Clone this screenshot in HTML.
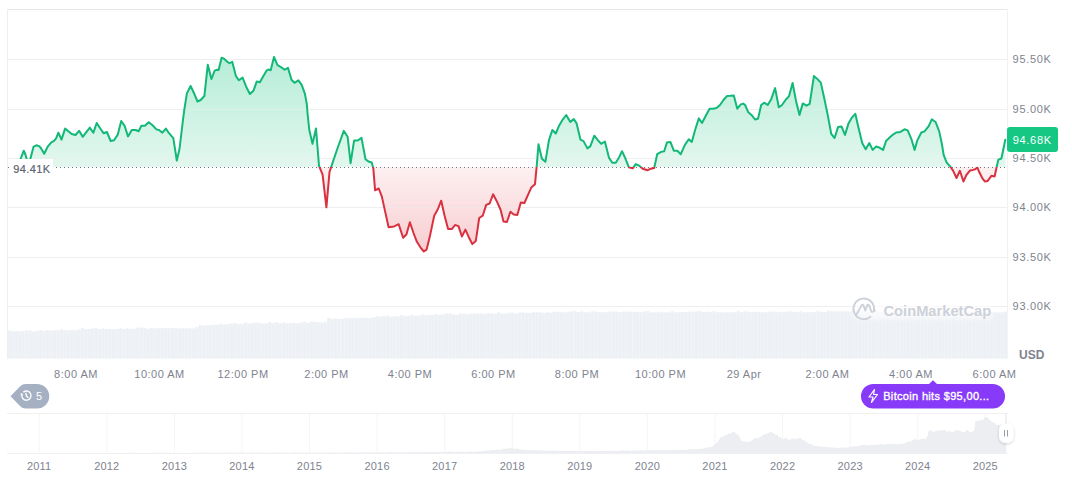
<!DOCTYPE html>
<html><head><meta charset="utf-8"><style>
*{margin:0;padding:0;box-sizing:border-box}
html,body{width:1072px;height:477px;overflow:hidden;background:#fff}
body{position:relative;font-family:"Liberation Sans",sans-serif;}
svg.main{position:absolute;left:0;top:0}
.xl{position:absolute;top:367.1px;width:80px;text-align:center;font-size:11px;line-height:14px;color:#7e838f;letter-spacing:0.5px;padding-left:0.5px;white-space:nowrap}
.yl{position:absolute;top:458.9px;width:60px;text-align:center;font-size:11px;line-height:14px;color:#7e838f;letter-spacing:0.2px;white-space:nowrap}
.rl{position:absolute;left:1012.6px;font-size:11px;line-height:14px;color:#7e838f;letter-spacing:0.7px;white-space:nowrap}
.tag{position:absolute;left:1007px;top:127px;width:51px;height:25px;background:#16c784;border-radius:3px}
.tagt{position:absolute;left:1012.7px;top:133.2px;color:#fff;font-size:11px;line-height:14px;letter-spacing:0.7px;white-space:nowrap}
.curb{position:absolute;left:9px;top:159px;width:44px;height:17px;background:#fff}
.cur{position:absolute;left:13.2px;top:162.1px;color:#5c6370;font-size:11px;line-height:14px;letter-spacing:0.4px;white-space:nowrap;-webkit-text-stroke:0.2px #5c6370}
.usd{position:absolute;left:1019px;top:348px;font-size:12px;font-weight:bold;line-height:14px;color:#7e838f}
.wm{position:absolute;left:883.5px;top:302px;font-size:14.7px;font-weight:bold;line-height:18px;color:#cdd1d9}
.pb{position:absolute;left:883.2px;top:389px;font-size:11px;line-height:14px;color:#fff;white-space:nowrap;letter-spacing:0.33px;-webkit-text-stroke:0.35px #fff}
.gb{position:absolute;left:36px;top:389px;font-size:11px;line-height:14px;color:#fff}
</style></head><body>
<svg class="main" width="1072" height="477" viewBox="0 0 1072 477">
<defs>
<linearGradient id="gg" x1="0" y1="57" x2="0" y2="167" gradientUnits="userSpaceOnUse">
<stop offset="0" stop-color="#b6edd8"/>
<stop offset="1" stop-color="#e3f7ef"/>
</linearGradient>
<linearGradient id="rg" x1="0" y1="167" x2="0" y2="252" gradientUnits="userSpaceOnUse">
<stop offset="0" stop-color="#fdf0f1"/>
<stop offset="1" stop-color="#f7cdd0"/>
</linearGradient>
<clipPath id="above"><rect x="0" y="0" width="1072" height="167.0"/></clipPath>
<clipPath id="below"><rect x="0" y="167.0" width="1072" height="300"/></clipPath>
<filter id="bl" x="-20%" y="-50%" width="140%" height="200%"><feGaussianBlur stdDeviation="2.5"/></filter>
<filter id="sh" x="-50%" y="-50%" width="200%" height="200%"><feDropShadow dx="0" dy="1" stdDeviation="1.5" flood-color="#000" flood-opacity="0.18"/></filter>
</defs>
<!-- frame -->
<rect x="7" y="9" width="1001" height="1" fill="#e7e7e8"/>
<rect x="7" y="9" width="1" height="350" fill="#efeff0"/>
<rect x="1007" y="9" width="1" height="350" fill="#f1f1f2"/>
<rect x="8" y="59" width="999" height="1" fill="#eeeeef"/><rect x="8" y="109" width="999" height="1" fill="#eeeeef"/><rect x="8" y="158" width="999" height="1" fill="#eeeeef"/><rect x="8" y="207" width="999" height="1" fill="#eeeeef"/><rect x="8" y="257" width="999" height="1" fill="#eeeeef"/><rect x="8" y="306" width="999" height="1" fill="#eeeeef"/>
<!-- volume -->
<path d="M8 358.5 L8.00 331.50 L11.47 331.50 L11.47 331.50 L14.94 331.50 L14.94 331.50 L18.41 331.50 L18.41 331.50 L21.88 331.50 L21.88 331.50 L25.35 331.50 L25.35 331.50 L28.82 331.50 L28.82 331.50 L32.29 331.50 L32.29 331.50 L35.76 331.50 L35.76 331.50 L39.23 331.50 L39.23 331.02 L42.70 331.02 L42.70 330.49 L46.18 330.49 L46.18 330.47 L49.65 330.47 L49.65 330.45 L53.12 330.45 L53.12 330.43 L56.59 330.43 L56.59 330.41 L60.06 330.41 L60.06 330.39 L63.53 330.39 L63.53 330.37 L67.00 330.37 L67.00 330.35 L70.47 330.35 L70.47 330.33 L73.94 330.33 L73.94 330.31 L77.41 330.31 L77.41 329.67 L80.88 329.67 L80.88 329.18 L84.35 329.18 L84.35 329.15 L87.82 329.15 L87.82 329.13 L91.29 329.13 L91.29 329.10 L94.76 329.10 L94.76 329.07 L98.23 329.07 L98.23 329.04 L101.70 329.04 L101.70 329.02 L105.17 329.02 L105.17 328.99 L108.64 328.99 L108.64 328.96 L112.11 328.96 L112.11 328.94 L115.59 328.94 L115.59 328.91 L119.06 328.91 L119.06 328.88 L122.53 328.88 L122.53 328.85 L126.00 328.85 L126.00 328.83 L129.47 328.83 L129.47 328.80 L132.94 328.80 L132.94 328.77 L136.41 328.77 L136.41 328.74 L139.88 328.74 L139.88 328.72 L143.35 328.72 L143.35 328.69 L146.82 328.69 L146.82 328.66 L150.29 328.66 L150.29 328.64 L153.76 328.64 L153.76 328.61 L157.23 328.61 L157.23 328.58 L160.70 328.58 L160.70 328.55 L164.17 328.55 L164.17 328.53 L167.64 328.53 L167.64 328.50 L171.11 328.50 L171.11 328.47 L174.58 328.47 L174.58 328.45 L178.05 328.45 L178.05 328.42 L181.52 328.42 L181.52 328.39 L184.99 328.39 L184.99 328.36 L188.47 328.36 L188.47 328.34 L191.94 328.34 L191.94 328.31 L195.41 328.31 L195.41 327.34 L198.88 327.34 L198.88 325.77 L202.35 325.77 L202.35 325.46 L205.82 325.46 L205.82 325.31 L209.29 325.31 L209.29 325.15 L212.76 325.15 L212.76 325.00 L216.23 325.00 L216.23 324.85 L219.70 324.85 L219.70 324.69 L223.17 324.69 L223.17 324.54 L226.64 324.54 L226.64 324.38 L230.11 324.38 L230.11 324.23 L233.58 324.23 L233.58 324.07 L237.05 324.07 L237.05 323.92 L240.52 323.92 L240.52 323.77 L243.99 323.77 L243.99 323.61 L247.46 323.61 L247.46 323.56 L250.93 323.56 L250.93 323.53 L254.40 323.53 L254.40 323.49 L257.88 323.49 L257.88 323.45 L261.35 323.45 L261.35 323.41 L264.82 323.41 L264.82 323.37 L268.29 323.37 L268.29 323.33 L271.76 323.33 L271.76 323.29 L275.23 323.29 L275.23 323.26 L278.70 323.26 L278.70 323.22 L282.17 323.22 L282.17 323.18 L285.64 323.18 L285.64 323.14 L289.11 323.14 L289.11 323.10 L292.58 323.10 L292.58 323.06 L296.05 323.06 L296.05 323.02 L299.52 323.02 L299.52 322.99 L302.99 322.99 L302.99 322.95 L306.46 322.95 L306.46 322.91 L309.93 322.91 L309.93 322.87 L313.40 322.87 L313.40 322.83 L316.87 322.83 L316.87 322.79 L320.34 322.79 L320.34 322.75 L323.81 322.75 L323.81 322.72 L327.28 322.72 L327.28 319.10 L330.76 319.10 L330.76 319.00 L334.23 319.00 L334.23 318.90 L337.70 318.90 L337.70 318.80 L341.17 318.80 L341.17 318.70 L344.64 318.70 L344.64 318.60 L348.11 318.60 L348.11 318.50 L351.58 318.50 L351.58 318.40 L355.05 318.40 L355.05 318.30 L358.52 318.30 L358.52 318.20 L361.99 318.20 L361.99 318.10 L365.46 318.10 L365.46 318.00 L368.93 318.00 L368.93 317.90 L372.40 317.90 L372.40 317.73 L375.87 317.73 L375.87 316.78 L379.34 316.78 L379.34 316.73 L382.81 316.73 L382.81 316.68 L386.28 316.68 L386.28 316.63 L389.75 316.63 L389.75 316.58 L393.22 316.58 L393.22 316.53 L396.69 316.53 L396.69 316.48 L400.16 316.48 L400.16 316.43 L403.64 316.43 L403.64 316.34 L407.11 316.34 L407.11 316.18 L410.58 316.18 L410.58 316.03 L414.05 316.03 L414.05 315.87 L417.52 315.87 L417.52 315.71 L420.99 315.71 L420.99 315.56 L424.46 315.56 L424.46 315.40 L427.93 315.40 L427.93 315.25 L431.40 315.25 L431.40 315.09 L434.87 315.09 L434.87 314.93 L438.34 314.93 L438.34 314.78 L441.81 314.78 L441.81 314.62 L445.28 314.62 L445.28 314.55 L448.75 314.55 L448.75 314.49 L452.22 314.49 L452.22 314.44 L455.69 314.44 L455.69 314.38 L459.16 314.38 L459.16 314.32 L462.63 314.32 L462.63 314.27 L466.10 314.27 L466.10 314.21 L469.57 314.21 L469.57 314.15 L473.05 314.15 L473.05 314.10 L476.52 314.10 L476.52 314.04 L479.99 314.04 L479.99 313.98 L483.46 313.98 L483.46 313.93 L486.93 313.93 L486.93 313.87 L490.40 313.87 L490.40 313.82 L493.87 313.82 L493.87 313.76 L497.34 313.76 L497.34 313.70 L500.81 313.70 L500.81 313.65 L504.28 313.65 L504.28 313.59 L507.75 313.59 L507.75 313.53 L511.22 313.53 L511.22 313.48 L514.69 313.48 L514.69 313.42 L518.16 313.42 L518.16 313.36 L521.63 313.36 L521.63 313.31 L525.10 313.31 L525.10 313.25 L528.57 313.25 L528.57 313.19 L532.04 313.19 L532.04 313.14 L535.51 313.14 L535.51 313.06 L538.98 313.06 L538.98 312.94 L542.45 312.94 L542.45 312.83 L545.93 312.83 L545.93 312.71 L549.40 312.71 L549.40 312.60 L552.87 312.60 L552.87 312.48 L556.34 312.48 L556.34 312.36 L559.81 312.36 L559.81 312.30 L563.28 312.30 L563.28 312.30 L566.75 312.30 L566.75 312.30 L570.22 312.30 L570.22 312.30 L573.69 312.30 L573.69 312.30 L577.16 312.30 L577.16 312.30 L580.63 312.30 L580.63 312.30 L584.10 312.30 L584.10 312.30 L587.57 312.30 L587.57 312.30 L591.04 312.30 L591.04 312.30 L594.51 312.30 L594.51 312.30 L597.98 312.30 L597.98 312.30 L601.45 312.30 L601.45 312.30 L604.92 312.30 L604.92 312.30 L608.39 312.30 L608.39 312.30 L611.86 312.30 L611.86 312.30 L615.34 312.30 L615.34 312.30 L618.81 312.30 L618.81 312.30 L622.28 312.30 L622.28 312.30 L625.75 312.30 L625.75 312.30 L629.22 312.30 L629.22 312.30 L632.69 312.30 L632.69 312.30 L636.16 312.30 L636.16 312.30 L639.63 312.30 L639.63 312.30 L643.10 312.30 L643.10 312.30 L646.57 312.30 L646.57 312.30 L650.04 312.30 L650.04 312.30 L653.51 312.30 L653.51 312.30 L656.98 312.30 L656.98 312.30 L660.45 312.30 L660.45 312.30 L663.92 312.30 L663.92 312.30 L667.39 312.30 L667.39 312.30 L670.86 312.30 L670.86 312.30 L674.33 312.30 L674.33 312.30 L677.80 312.30 L677.80 312.30 L681.27 312.30 L681.27 312.30 L684.74 312.30 L684.74 312.30 L688.22 312.30 L688.22 312.30 L691.69 312.30 L691.69 312.30 L695.16 312.30 L695.16 312.30 L698.63 312.30 L698.63 312.30 L702.10 312.30 L702.10 312.30 L705.57 312.30 L705.57 312.30 L709.04 312.30 L709.04 312.30 L712.51 312.30 L712.51 312.30 L715.98 312.30 L715.98 312.30 L719.45 312.30 L719.45 312.30 L722.92 312.30 L722.92 312.30 L726.39 312.30 L726.39 312.30 L729.86 312.30 L729.86 312.30 L733.33 312.30 L733.33 312.30 L736.80 312.30 L736.80 312.30 L740.27 312.30 L740.27 312.30 L743.74 312.30 L743.74 312.30 L747.21 312.30 L747.21 312.30 L750.68 312.30 L750.68 312.30 L754.15 312.30 L754.15 312.30 L757.62 312.30 L757.62 312.30 L761.10 312.30 L761.10 312.30 L764.57 312.30 L764.57 312.30 L768.04 312.30 L768.04 312.30 L771.51 312.30 L771.51 312.30 L774.98 312.30 L774.98 312.30 L778.45 312.30 L778.45 312.30 L781.92 312.30 L781.92 312.30 L785.39 312.30 L785.39 312.30 L788.86 312.30 L788.86 312.30 L792.33 312.30 L792.33 312.30 L795.80 312.30 L795.80 312.30 L799.27 312.30 L799.27 312.29 L802.74 312.29 L802.74 312.24 L806.21 312.24 L806.21 312.19 L809.68 312.19 L809.68 312.14 L813.15 312.14 L813.15 312.09 L816.62 312.09 L816.62 312.04 L820.09 312.04 L820.09 311.99 L823.56 311.99 L823.56 311.94 L827.03 311.94 L827.03 311.89 L830.51 311.89 L830.51 311.84 L833.98 311.84 L833.98 311.79 L837.45 311.79 L837.45 311.74 L840.92 311.74 L840.92 311.69 L844.39 311.69 L844.39 311.64 L847.86 311.64 L847.86 311.59 L851.33 311.59 L851.33 311.54 L854.80 311.54 L854.80 311.49 L858.27 311.49 L858.27 311.44 L861.74 311.44 L861.74 311.39 L865.21 311.39 L865.21 311.34 L868.68 311.34 L868.68 311.33 L872.15 311.33 L872.15 311.56 L875.62 311.56 L875.62 311.79 L879.09 311.79 L879.09 312.02 L882.56 312.02 L882.56 312.25 L886.03 312.25 L886.03 312.48 L889.50 312.48 L889.50 312.72 L892.97 312.72 L892.97 312.95 L896.44 312.95 L896.44 313.18 L899.91 313.18 L899.91 313.28 L903.39 313.28 L903.39 313.25 L906.86 313.25 L906.86 313.22 L910.33 313.22 L910.33 313.19 L913.80 313.19 L913.80 313.15 L917.27 313.15 L917.27 313.12 L920.74 313.12 L920.74 313.09 L924.21 313.09 L924.21 313.06 L927.68 313.06 L927.68 313.03 L931.15 313.03 L931.15 312.99 L934.62 312.99 L934.62 312.96 L938.09 312.96 L938.09 312.93 L941.56 312.93 L941.56 312.90 L945.03 312.90 L945.03 312.86 L948.50 312.86 L948.50 312.83 L951.97 312.83 L951.97 312.80 L955.44 312.80 L955.44 312.77 L958.91 312.77 L958.91 312.73 L962.38 312.73 L962.38 312.70 L965.85 312.70 L965.85 312.67 L969.32 312.67 L969.32 312.64 L972.80 312.64 L972.80 312.60 L976.27 312.60 L976.27 312.57 L979.74 312.57 L979.74 312.54 L983.21 312.54 L983.21 312.51 L986.68 312.51 L986.68 312.47 L990.15 312.47 L990.15 312.44 L993.62 312.44 L993.62 312.41 L997.09 312.41 L997.09 312.38 L1000.56 312.38 L1000.56 312.34 L1004.03 312.34 L1004.03 312.31 L1007.50 312.31 L1007.5 358.5 Z" fill="#f3f5f8"/>
<path d="M8.00 330.58h2.77v27.92h-2.77zM11.47 331.19h2.77v27.31h-2.77zM14.94 330.84h2.77v27.66h-2.77zM18.41 331.31h2.77v27.19h-2.77zM21.88 331.35h2.77v27.15h-2.77zM25.35 330.23h2.77v28.27h-2.77zM28.82 330.13h2.77v28.37h-2.77zM32.29 331.77h2.77v26.73h-2.77zM35.76 330.62h2.77v27.88h-2.77zM39.23 330.08h2.77v28.42h-2.77zM42.70 331.08h2.77v27.42h-2.77zM46.18 330.01h2.77v28.49h-2.77zM49.65 330.72h2.77v27.78h-2.77zM53.12 329.98h2.77v28.52h-2.77zM56.59 330.29h2.77v28.21h-2.77zM60.06 329.29h2.77v29.21h-2.77zM63.53 330.24h2.77v28.26h-2.77zM67.00 330.69h2.77v27.81h-2.77zM70.47 329.98h2.77v28.52h-2.77zM73.94 330.40h2.77v28.10h-2.77zM77.41 329.61h2.77v28.89h-2.77zM80.88 327.91h2.77v30.59h-2.77zM84.35 329.27h2.77v29.23h-2.77zM87.82 328.91h2.77v29.59h-2.77zM91.29 328.30h2.77v30.20h-2.77zM94.76 327.73h2.77v30.77h-2.77zM98.23 329.37h2.77v29.13h-2.77zM101.70 328.56h2.77v29.94h-2.77zM105.17 329.03h2.77v29.47h-2.77zM108.64 329.32h2.77v29.18h-2.77zM112.11 328.96h2.77v29.54h-2.77zM115.59 329.35h2.77v29.15h-2.77zM119.06 328.27h2.77v30.23h-2.77zM122.53 329.06h2.77v29.44h-2.77zM126.00 328.32h2.77v30.18h-2.77zM129.47 329.27h2.77v29.23h-2.77zM132.94 329.13h2.77v29.37h-2.77zM136.41 327.54h2.77v30.96h-2.77zM139.88 327.59h2.77v30.91h-2.77zM143.35 327.72h2.77v30.78h-2.77zM146.82 329.19h2.77v29.31h-2.77zM150.29 328.11h2.77v30.39h-2.77zM153.76 328.46h2.77v30.04h-2.77zM157.23 327.78h2.77v30.72h-2.77zM160.70 328.17h2.77v30.33h-2.77zM164.17 327.90h2.77v30.60h-2.77zM167.64 327.80h2.77v30.70h-2.77zM171.11 328.24h2.77v30.26h-2.77zM174.58 328.21h2.77v30.29h-2.77zM178.05 328.83h2.77v29.67h-2.77zM181.52 328.36h2.77v30.14h-2.77zM184.99 328.82h2.77v29.68h-2.77zM188.47 328.65h2.77v29.85h-2.77zM191.94 328.89h2.77v29.61h-2.77zM195.41 327.28h2.77v31.22h-2.77zM198.88 324.70h2.77v33.80h-2.77zM202.35 325.78h2.77v32.72h-2.77zM205.82 325.84h2.77v32.66h-2.77zM209.29 325.56h2.77v32.94h-2.77zM212.76 324.74h2.77v33.76h-2.77zM216.23 324.87h2.77v33.63h-2.77zM219.70 323.71h2.77v34.79h-2.77zM223.17 324.80h2.77v33.70h-2.77zM226.64 324.13h2.77v34.37h-2.77zM230.11 323.40h2.77v35.10h-2.77zM233.58 322.80h2.77v35.70h-2.77zM237.05 324.23h2.77v34.27h-2.77zM240.52 324.35h2.77v34.15h-2.77zM243.99 322.39h2.77v36.11h-2.77zM247.46 323.77h2.77v34.73h-2.77zM250.93 322.95h2.77v35.55h-2.77zM254.40 322.39h2.77v36.11h-2.77zM257.88 322.64h2.77v35.86h-2.77zM261.35 323.55h2.77v34.95h-2.77zM264.82 323.72h2.77v34.78h-2.77zM268.29 322.02h2.77v36.48h-2.77zM271.76 323.12h2.77v35.38h-2.77zM275.23 321.95h2.77v36.55h-2.77zM278.70 323.25h2.77v35.25h-2.77zM282.17 322.44h2.77v36.06h-2.77zM285.64 323.50h2.77v35.00h-2.77zM289.11 323.66h2.77v34.84h-2.77zM292.58 322.67h2.77v35.83h-2.77zM296.05 323.62h2.77v34.88h-2.77zM299.52 322.21h2.77v36.29h-2.77zM302.99 321.70h2.77v36.80h-2.77zM306.46 322.71h2.77v35.79h-2.77zM309.93 321.53h2.77v36.97h-2.77zM313.40 321.83h2.77v36.67h-2.77zM316.87 322.21h2.77v36.29h-2.77zM320.34 322.58h2.77v35.92h-2.77zM323.81 321.63h2.77v36.87h-2.77zM327.28 317.78h2.77v40.72h-2.77zM330.76 319.33h2.77v39.17h-2.77zM334.23 318.13h2.77v40.37h-2.77zM337.70 319.32h2.77v39.18h-2.77zM341.17 319.09h2.77v39.41h-2.77zM344.64 317.95h2.77v40.55h-2.77zM348.11 318.02h2.77v40.48h-2.77zM351.58 318.04h2.77v40.46h-2.77zM355.05 318.19h2.77v40.31h-2.77zM358.52 317.99h2.77v40.51h-2.77zM361.99 317.82h2.77v40.68h-2.77zM365.46 317.84h2.77v40.66h-2.77zM368.93 318.38h2.77v40.12h-2.77zM372.40 317.35h2.77v41.15h-2.77zM375.87 316.24h2.77v42.26h-2.77zM379.34 316.77h2.77v41.73h-2.77zM382.81 315.75h2.77v42.75h-2.77zM386.28 315.83h2.77v42.67h-2.77zM389.75 317.13h2.77v41.37h-2.77zM393.22 316.17h2.77v42.33h-2.77zM396.69 316.18h2.77v42.32h-2.77zM400.16 315.05h2.77v43.45h-2.77zM403.64 315.77h2.77v42.73h-2.77zM407.11 315.94h2.77v42.56h-2.77zM410.58 314.67h2.77v43.83h-2.77zM414.05 315.70h2.77v42.80h-2.77zM417.52 315.58h2.77v42.92h-2.77zM420.99 314.28h2.77v44.22h-2.77zM424.46 315.26h2.77v43.24h-2.77zM427.93 314.78h2.77v43.72h-2.77zM431.40 315.05h2.77v43.45h-2.77zM434.87 314.24h2.77v44.26h-2.77zM438.34 314.79h2.77v43.71h-2.77zM441.81 314.70h2.77v43.80h-2.77zM445.28 313.20h2.77v45.30h-2.77zM448.75 313.22h2.77v45.28h-2.77zM452.22 314.39h2.77v44.11h-2.77zM455.69 314.91h2.77v43.59h-2.77zM459.16 313.43h2.77v45.07h-2.77zM462.63 313.78h2.77v44.72h-2.77zM466.10 314.00h2.77v44.50h-2.77zM469.57 313.39h2.77v45.11h-2.77zM473.05 313.43h2.77v45.07h-2.77zM476.52 313.27h2.77v45.23h-2.77zM479.99 313.32h2.77v45.18h-2.77zM483.46 313.72h2.77v44.78h-2.77zM486.93 313.07h2.77v45.43h-2.77zM490.40 313.17h2.77v45.33h-2.77zM493.87 313.90h2.77v44.60h-2.77zM497.34 312.36h2.77v46.14h-2.77zM500.81 313.38h2.77v45.12h-2.77zM504.28 313.66h2.77v44.84h-2.77zM507.75 312.75h2.77v45.75h-2.77zM511.22 312.52h2.77v45.98h-2.77zM514.69 313.63h2.77v44.87h-2.77zM518.16 312.44h2.77v46.06h-2.77zM521.63 312.28h2.77v46.22h-2.77zM525.10 312.72h2.77v45.78h-2.77zM528.57 313.19h2.77v45.31h-2.77zM532.04 311.94h2.77v46.56h-2.77zM535.51 312.30h2.77v46.20h-2.77zM538.98 312.21h2.77v46.29h-2.77zM542.45 313.09h2.77v45.41h-2.77zM545.93 312.19h2.77v46.31h-2.77zM549.40 312.91h2.77v45.59h-2.77zM552.87 311.42h2.77v47.08h-2.77zM556.34 311.64h2.77v46.86h-2.77zM559.81 312.20h2.77v46.30h-2.77zM563.28 312.67h2.77v45.83h-2.77zM566.75 311.80h2.77v46.70h-2.77zM570.22 311.35h2.77v47.15h-2.77zM573.69 311.14h2.77v47.36h-2.77zM577.16 311.96h2.77v46.54h-2.77zM580.63 311.28h2.77v47.22h-2.77zM584.10 312.51h2.77v45.99h-2.77zM587.57 312.58h2.77v45.92h-2.77zM591.04 311.27h2.77v47.23h-2.77zM594.51 311.46h2.77v47.04h-2.77zM597.98 312.51h2.77v45.99h-2.77zM601.45 312.18h2.77v46.32h-2.77zM604.92 312.51h2.77v45.99h-2.77zM608.39 311.59h2.77v46.91h-2.77zM611.86 311.16h2.77v47.34h-2.77zM615.34 311.48h2.77v47.02h-2.77zM618.81 312.49h2.77v46.01h-2.77zM622.28 311.44h2.77v47.06h-2.77zM625.75 311.59h2.77v46.91h-2.77zM629.22 311.73h2.77v46.77h-2.77zM632.69 311.74h2.77v46.76h-2.77zM636.16 311.72h2.77v46.78h-2.77zM639.63 312.74h2.77v45.76h-2.77zM643.10 311.21h2.77v47.29h-2.77zM646.57 310.91h2.77v47.59h-2.77zM650.04 312.79h2.77v45.71h-2.77zM653.51 312.66h2.77v45.84h-2.77zM656.98 312.87h2.77v45.63h-2.77zM660.45 311.77h2.77v46.73h-2.77zM663.92 312.80h2.77v45.70h-2.77zM667.39 312.75h2.77v45.75h-2.77zM670.86 311.34h2.77v47.16h-2.77zM674.33 312.39h2.77v46.11h-2.77zM677.80 312.57h2.77v45.93h-2.77zM681.27 312.23h2.77v46.27h-2.77zM684.74 311.94h2.77v46.56h-2.77zM688.22 311.48h2.77v47.02h-2.77zM691.69 311.58h2.77v46.92h-2.77zM695.16 311.35h2.77v47.15h-2.77zM698.63 311.04h2.77v47.46h-2.77zM702.10 312.08h2.77v46.42h-2.77zM705.57 311.47h2.77v47.03h-2.77zM709.04 312.52h2.77v45.98h-2.77zM712.51 310.99h2.77v47.51h-2.77zM715.98 312.71h2.77v45.79h-2.77zM719.45 312.29h2.77v46.21h-2.77zM722.92 312.75h2.77v45.75h-2.77zM726.39 312.69h2.77v45.81h-2.77zM729.86 312.70h2.77v45.80h-2.77zM733.33 312.05h2.77v46.45h-2.77zM736.80 310.93h2.77v47.57h-2.77zM740.27 312.39h2.77v46.11h-2.77zM743.74 311.24h2.77v47.26h-2.77zM747.21 311.50h2.77v47.00h-2.77zM750.68 312.23h2.77v46.27h-2.77zM754.15 311.95h2.77v46.55h-2.77zM757.62 311.73h2.77v46.77h-2.77zM761.10 312.78h2.77v45.72h-2.77zM764.57 312.12h2.77v46.38h-2.77zM768.04 311.58h2.77v46.92h-2.77zM771.51 311.40h2.77v47.10h-2.77zM774.98 312.62h2.77v45.88h-2.77zM778.45 311.85h2.77v46.65h-2.77zM781.92 312.46h2.77v46.04h-2.77zM785.39 311.60h2.77v46.90h-2.77zM788.86 311.29h2.77v47.21h-2.77zM792.33 311.97h2.77v46.53h-2.77zM795.80 312.53h2.77v45.97h-2.77zM799.27 311.23h2.77v47.27h-2.77zM802.74 312.42h2.77v46.08h-2.77zM806.21 312.63h2.77v45.87h-2.77zM809.68 312.35h2.77v46.15h-2.77zM813.15 312.33h2.77v46.17h-2.77zM816.62 310.65h2.77v47.85h-2.77zM820.09 311.85h2.77v46.65h-2.77zM823.56 312.26h2.77v46.24h-2.77zM827.03 310.59h2.77v47.91h-2.77zM830.51 310.98h2.77v47.52h-2.77zM833.98 310.93h2.77v47.57h-2.77zM837.45 311.39h2.77v47.11h-2.77zM840.92 311.14h2.77v47.36h-2.77zM844.39 311.19h2.77v47.31h-2.77zM847.86 311.74h2.77v46.76h-2.77zM851.33 310.15h2.77v48.35h-2.77zM854.80 310.20h2.77v48.30h-2.77zM858.27 310.30h2.77v48.20h-2.77zM861.74 310.24h2.77v48.26h-2.77zM865.21 310.08h2.77v48.42h-2.77zM868.68 311.88h2.77v46.62h-2.77zM872.15 311.87h2.77v46.63h-2.77zM875.62 310.56h2.77v47.94h-2.77zM879.09 311.63h2.77v46.87h-2.77zM882.56 311.48h2.77v47.02h-2.77zM886.03 311.71h2.77v46.79h-2.77zM889.50 312.02h2.77v46.48h-2.77zM892.97 312.84h2.77v45.66h-2.77zM896.44 312.95h2.77v45.55h-2.77zM899.91 312.61h2.77v45.89h-2.77zM903.39 312.23h2.77v46.27h-2.77zM906.86 312.48h2.77v46.02h-2.77zM910.33 312.03h2.77v46.47h-2.77zM913.80 312.87h2.77v45.63h-2.77zM917.27 313.15h2.77v45.35h-2.77zM920.74 312.45h2.77v46.05h-2.77zM924.21 311.82h2.77v46.68h-2.77zM927.68 311.98h2.77v46.52h-2.77zM931.15 312.34h2.77v46.16h-2.77zM934.62 312.77h2.77v45.73h-2.77zM938.09 313.09h2.77v45.41h-2.77zM941.56 312.26h2.77v46.24h-2.77zM945.03 313.07h2.77v45.43h-2.77zM948.50 312.68h2.77v45.82h-2.77zM951.97 312.26h2.77v46.24h-2.77zM955.44 312.11h2.77v46.39h-2.77zM958.91 312.33h2.77v46.17h-2.77zM962.38 312.71h2.77v45.79h-2.77zM965.85 312.11h2.77v46.39h-2.77zM969.32 312.62h2.77v45.88h-2.77zM972.80 312.13h2.77v46.37h-2.77zM976.27 311.66h2.77v46.84h-2.77zM979.74 312.21h2.77v46.29h-2.77zM983.21 312.50h2.77v46.00h-2.77zM986.68 311.22h2.77v47.28h-2.77zM990.15 311.89h2.77v46.61h-2.77zM993.62 311.86h2.77v46.64h-2.77zM997.09 312.74h2.77v45.76h-2.77zM1000.56 312.82h2.77v45.68h-2.77zM1004.03 311.66h2.77v46.84h-2.77z" fill="#edf0f4"/>
<!-- fills -->
<path d="M11 164 L12.5 162 L16 165 L19.3 162 L21.3 157.2 L23.8 150.7 L25.4 154.5 L27.3 161 L29.8 161 L33.6 146.6 L36.3 145.3 L39 146.1 L40.7 147.7 L44.2 153.8 L47.9 146.3 L51.3 142.3 L54 140.9 L56.1 138.4 L58.4 132.7 L61.5 139.6 L65.1 128.6 L68.4 131.2 L71.7 134 L75.5 135 L79.1 130.8 L82.7 136.8 L89.8 127.6 L93.3 132.8 L96.7 123 L100.3 128.5 L103.7 133.3 L106.9 132 L110.7 141 L114 140.2 L117.8 134.6 L121.2 121 L124.6 125.8 L128 136.4 L131.8 130 L135.9 130 L138.6 131.3 L141.4 125.8 L144.9 125.8 L148.7 122.3 L152.3 125 L156.4 129.4 L159 130 L162.4 132.7 L165.9 128.6 L168.6 132.7 L173.3 138.1 L176.8 160.5 L179.5 149 L183.1 119 L184.4 109.1 L186.9 93.4 L190.6 86 L194.3 93.8 L197.5 101.5 L200.7 100 L204.4 96 L207.8 64.7 L211.4 79 L214.7 70.6 L216.6 69.8 L218.6 70 L221.6 57.7 L224.4 59 L226.5 61.1 L229.4 63.2 L232.3 61.9 L235.9 76 L238.8 80.3 L242.6 77.6 L246.3 87 L249.9 94 L253.4 90.8 L256.8 81.4 L259.9 82.3 L262.8 77 L266.5 70.7 L268.4 69.5 L270.7 70.2 L274 56.9 L277.5 65.2 L281 67.1 L284.7 69.7 L288 67.9 L291.5 79.7 L294.5 82.8 L298.4 80.3 L301.7 84.8 L304.9 93.9 L306.8 104 L307.6 114 L309.3 130 L312.5 143.9 L316 128.5 L319 165.8 L322.6 174.6 L326.4 207.3 L329.5 172 L331.3 166.6 L337.6 148 L343.8 130.9 L347.6 136.7 L350.6 163.2 L354.1 140.5 L357.8 140.5 L361.5 137.9 L365.5 159.3 L368.5 161.5 L371.7 162.5 L373.3 168.2 L375.1 190.3 L378.7 188.5 L381.8 196.4 L385.1 211.4 L388.6 227.2 L394.1 226.4 L398.7 224.2 L403.1 237.8 L406.4 234.5 L409.9 222.3 L413.5 233 L416.9 241.8 L420.4 247.3 L423.8 251.5 L426.6 249.6 L429.6 237.6 L434.2 215.7 L437.7 209.5 L441.2 200.7 L444.6 215.7 L448.1 229.1 L452 228.9 L455 225 L458.5 226.1 L461.9 236.5 L465.4 229.6 L468.8 237.2 L472.3 244.1 L475.8 241.1 L479.2 218 L482.7 215.7 L486.2 204.9 L489.6 203.5 L493.1 194.3 L496.5 200.7 L500.5 209.5 L503.5 221.5 L506.9 222 L510.4 211.8 L513.8 214.6 L517.3 215 L520.8 202.6 L524.4 203 L528.1 194.6 L531.5 187.2 L535 184.2 L536.6 167.4 L538.5 144.3 L541.9 158.8 L545.4 161.8 L548.9 140.4 L552.3 130 L555.8 133.5 L559.2 125.4 L562.7 119.6 L566.2 115 L570.3 121.9 L573.8 119.1 L576.5 123.1 L580.5 139.7 L583.5 141.1 L587.4 148.4 L590.4 146.1 L594.3 135.7 L598 140.4 L601.2 143.8 L604.9 141.5 L608.9 157.6 L612.3 162.7 L615.8 162.7 L619.2 157.2 L622 151.2 L625 157.6 L628.9 167.4 L632.7 168.3 L635.8 164.1 L639.2 165.7 L642.7 168.7 L647.3 170.3 L650.8 168.7 L654.2 168 L657.2 154.2 L661.2 151.9 L664.2 151.2 L666.9 142.6 L670.4 141.9 L673.8 150.7 L677.3 150.7 L680.8 154.2 L684.9 144.9 L688.8 139.2 L691.8 141.9 L695.1 130 L698.8 118.4 L702 123 L706.2 115 L709.6 108.7 L713.1 108.7 L716.5 108 L720 105 L723.5 100 L726.9 96.1 L730.4 95.8 L733.8 95.4 L737.3 108.7 L740.8 104.4 L743.2 103.6 L745.1 105 L748.1 111.9 L751.5 114.9 L755 119.5 L758 118.8 L761.2 105 L764.2 102.7 L767.7 105 L771.2 99.2 L775.1 88.1 L778.8 107.3 L782 105 L785.7 99.7 L788.9 96.4 L792.6 83 L795.9 100.4 L799.5 114.9 L802.8 103.4 L806.5 105.7 L809.7 103.8 L813.9 76.1 L817.3 78.9 L820.8 82.6 L824.2 98 L827.7 114.9 L831.2 133.8 L834.6 138 L838.1 126.9 L841.5 126.4 L845 134.9 L848.5 123.4 L851.9 117.6 L855.3 113.8 L858.4 127.3 L862.2 143 L865.7 149.3 L869.3 143 L872.7 149.9 L876.2 146.5 L879.8 147.8 L883.1 149.9 L886.1 140.9 L889.9 137.3 L893 134.6 L896.2 132.5 L900.4 131.9 L904.5 129.3 L907.7 130.4 L911.3 138.8 L914.6 149.9 L917.1 140.9 L921.3 132.5 L924.5 131.4 L928.7 126.2 L931.8 119.3 L935.6 122 L939.2 131.4 L941.9 144 L943.7 155.2 L946.6 162.3 L950.3 166.7 L953.2 170.8 L956.5 178 L959.9 170.8 L963.4 181.5 L966.4 175 L970.1 170.4 L973 169.9 L975.2 169.2 L977.4 167.7 L979.6 172.8 L982.6 178.7 L984.8 181.4 L987.7 180.9 L991.4 175.8 L994.6 176.5 L996.5 167.7 L998.4 159.6 L1001.4 158.5 L1005.3 139.8 L1005.3 167.0 L11 167.0 Z" fill="url(#gg)" clip-path="url(#above)"/>
<path d="M11 164 L12.5 162 L16 165 L19.3 162 L21.3 157.2 L23.8 150.7 L25.4 154.5 L27.3 161 L29.8 161 L33.6 146.6 L36.3 145.3 L39 146.1 L40.7 147.7 L44.2 153.8 L47.9 146.3 L51.3 142.3 L54 140.9 L56.1 138.4 L58.4 132.7 L61.5 139.6 L65.1 128.6 L68.4 131.2 L71.7 134 L75.5 135 L79.1 130.8 L82.7 136.8 L89.8 127.6 L93.3 132.8 L96.7 123 L100.3 128.5 L103.7 133.3 L106.9 132 L110.7 141 L114 140.2 L117.8 134.6 L121.2 121 L124.6 125.8 L128 136.4 L131.8 130 L135.9 130 L138.6 131.3 L141.4 125.8 L144.9 125.8 L148.7 122.3 L152.3 125 L156.4 129.4 L159 130 L162.4 132.7 L165.9 128.6 L168.6 132.7 L173.3 138.1 L176.8 160.5 L179.5 149 L183.1 119 L184.4 109.1 L186.9 93.4 L190.6 86 L194.3 93.8 L197.5 101.5 L200.7 100 L204.4 96 L207.8 64.7 L211.4 79 L214.7 70.6 L216.6 69.8 L218.6 70 L221.6 57.7 L224.4 59 L226.5 61.1 L229.4 63.2 L232.3 61.9 L235.9 76 L238.8 80.3 L242.6 77.6 L246.3 87 L249.9 94 L253.4 90.8 L256.8 81.4 L259.9 82.3 L262.8 77 L266.5 70.7 L268.4 69.5 L270.7 70.2 L274 56.9 L277.5 65.2 L281 67.1 L284.7 69.7 L288 67.9 L291.5 79.7 L294.5 82.8 L298.4 80.3 L301.7 84.8 L304.9 93.9 L306.8 104 L307.6 114 L309.3 130 L312.5 143.9 L316 128.5 L319 165.8 L322.6 174.6 L326.4 207.3 L329.5 172 L331.3 166.6 L337.6 148 L343.8 130.9 L347.6 136.7 L350.6 163.2 L354.1 140.5 L357.8 140.5 L361.5 137.9 L365.5 159.3 L368.5 161.5 L371.7 162.5 L373.3 168.2 L375.1 190.3 L378.7 188.5 L381.8 196.4 L385.1 211.4 L388.6 227.2 L394.1 226.4 L398.7 224.2 L403.1 237.8 L406.4 234.5 L409.9 222.3 L413.5 233 L416.9 241.8 L420.4 247.3 L423.8 251.5 L426.6 249.6 L429.6 237.6 L434.2 215.7 L437.7 209.5 L441.2 200.7 L444.6 215.7 L448.1 229.1 L452 228.9 L455 225 L458.5 226.1 L461.9 236.5 L465.4 229.6 L468.8 237.2 L472.3 244.1 L475.8 241.1 L479.2 218 L482.7 215.7 L486.2 204.9 L489.6 203.5 L493.1 194.3 L496.5 200.7 L500.5 209.5 L503.5 221.5 L506.9 222 L510.4 211.8 L513.8 214.6 L517.3 215 L520.8 202.6 L524.4 203 L528.1 194.6 L531.5 187.2 L535 184.2 L536.6 167.4 L538.5 144.3 L541.9 158.8 L545.4 161.8 L548.9 140.4 L552.3 130 L555.8 133.5 L559.2 125.4 L562.7 119.6 L566.2 115 L570.3 121.9 L573.8 119.1 L576.5 123.1 L580.5 139.7 L583.5 141.1 L587.4 148.4 L590.4 146.1 L594.3 135.7 L598 140.4 L601.2 143.8 L604.9 141.5 L608.9 157.6 L612.3 162.7 L615.8 162.7 L619.2 157.2 L622 151.2 L625 157.6 L628.9 167.4 L632.7 168.3 L635.8 164.1 L639.2 165.7 L642.7 168.7 L647.3 170.3 L650.8 168.7 L654.2 168 L657.2 154.2 L661.2 151.9 L664.2 151.2 L666.9 142.6 L670.4 141.9 L673.8 150.7 L677.3 150.7 L680.8 154.2 L684.9 144.9 L688.8 139.2 L691.8 141.9 L695.1 130 L698.8 118.4 L702 123 L706.2 115 L709.6 108.7 L713.1 108.7 L716.5 108 L720 105 L723.5 100 L726.9 96.1 L730.4 95.8 L733.8 95.4 L737.3 108.7 L740.8 104.4 L743.2 103.6 L745.1 105 L748.1 111.9 L751.5 114.9 L755 119.5 L758 118.8 L761.2 105 L764.2 102.7 L767.7 105 L771.2 99.2 L775.1 88.1 L778.8 107.3 L782 105 L785.7 99.7 L788.9 96.4 L792.6 83 L795.9 100.4 L799.5 114.9 L802.8 103.4 L806.5 105.7 L809.7 103.8 L813.9 76.1 L817.3 78.9 L820.8 82.6 L824.2 98 L827.7 114.9 L831.2 133.8 L834.6 138 L838.1 126.9 L841.5 126.4 L845 134.9 L848.5 123.4 L851.9 117.6 L855.3 113.8 L858.4 127.3 L862.2 143 L865.7 149.3 L869.3 143 L872.7 149.9 L876.2 146.5 L879.8 147.8 L883.1 149.9 L886.1 140.9 L889.9 137.3 L893 134.6 L896.2 132.5 L900.4 131.9 L904.5 129.3 L907.7 130.4 L911.3 138.8 L914.6 149.9 L917.1 140.9 L921.3 132.5 L924.5 131.4 L928.7 126.2 L931.8 119.3 L935.6 122 L939.2 131.4 L941.9 144 L943.7 155.2 L946.6 162.3 L950.3 166.7 L953.2 170.8 L956.5 178 L959.9 170.8 L963.4 181.5 L966.4 175 L970.1 170.4 L973 169.9 L975.2 169.2 L977.4 167.7 L979.6 172.8 L982.6 178.7 L984.8 181.4 L987.7 180.9 L991.4 175.8 L994.6 176.5 L996.5 167.7 L998.4 159.6 L1001.4 158.5 L1005.3 139.8 L1005.3 167.0 L11 167.0 Z" fill="url(#rg)" clip-path="url(#below)"/>
<g opacity="0.45"><rect x="8" y="59" width="999" height="1" fill="#eeeeef"/><rect x="8" y="109" width="999" height="1" fill="#eeeeef"/><rect x="8" y="158" width="999" height="1" fill="#eeeeef"/><rect x="8" y="207" width="999" height="1" fill="#eeeeef"/><rect x="8" y="257" width="999" height="1" fill="#eeeeef"/><rect x="8" y="306" width="999" height="1" fill="#eeeeef"/></g>
<!-- baseline dotted -->
<line x1="8" y1="167.5" x2="1006" y2="167.5" stroke="#6f7583" stroke-width="1" stroke-dasharray="1 3"/>
<!-- lines -->
<path d="M11 164 L12.5 162 L16 165 L19.3 162 L21.3 157.2 L23.8 150.7 L25.4 154.5 L27.3 161 L29.8 161 L33.6 146.6 L36.3 145.3 L39 146.1 L40.7 147.7 L44.2 153.8 L47.9 146.3 L51.3 142.3 L54 140.9 L56.1 138.4 L58.4 132.7 L61.5 139.6 L65.1 128.6 L68.4 131.2 L71.7 134 L75.5 135 L79.1 130.8 L82.7 136.8 L89.8 127.6 L93.3 132.8 L96.7 123 L100.3 128.5 L103.7 133.3 L106.9 132 L110.7 141 L114 140.2 L117.8 134.6 L121.2 121 L124.6 125.8 L128 136.4 L131.8 130 L135.9 130 L138.6 131.3 L141.4 125.8 L144.9 125.8 L148.7 122.3 L152.3 125 L156.4 129.4 L159 130 L162.4 132.7 L165.9 128.6 L168.6 132.7 L173.3 138.1 L176.8 160.5 L179.5 149 L183.1 119 L184.4 109.1 L186.9 93.4 L190.6 86 L194.3 93.8 L197.5 101.5 L200.7 100 L204.4 96 L207.8 64.7 L211.4 79 L214.7 70.6 L216.6 69.8 L218.6 70 L221.6 57.7 L224.4 59 L226.5 61.1 L229.4 63.2 L232.3 61.9 L235.9 76 L238.8 80.3 L242.6 77.6 L246.3 87 L249.9 94 L253.4 90.8 L256.8 81.4 L259.9 82.3 L262.8 77 L266.5 70.7 L268.4 69.5 L270.7 70.2 L274 56.9 L277.5 65.2 L281 67.1 L284.7 69.7 L288 67.9 L291.5 79.7 L294.5 82.8 L298.4 80.3 L301.7 84.8 L304.9 93.9 L306.8 104 L307.6 114 L309.3 130 L312.5 143.9 L316 128.5 L319 165.8 L322.6 174.6 L326.4 207.3 L329.5 172 L331.3 166.6 L337.6 148 L343.8 130.9 L347.6 136.7 L350.6 163.2 L354.1 140.5 L357.8 140.5 L361.5 137.9 L365.5 159.3 L368.5 161.5 L371.7 162.5 L373.3 168.2 L375.1 190.3 L378.7 188.5 L381.8 196.4 L385.1 211.4 L388.6 227.2 L394.1 226.4 L398.7 224.2 L403.1 237.8 L406.4 234.5 L409.9 222.3 L413.5 233 L416.9 241.8 L420.4 247.3 L423.8 251.5 L426.6 249.6 L429.6 237.6 L434.2 215.7 L437.7 209.5 L441.2 200.7 L444.6 215.7 L448.1 229.1 L452 228.9 L455 225 L458.5 226.1 L461.9 236.5 L465.4 229.6 L468.8 237.2 L472.3 244.1 L475.8 241.1 L479.2 218 L482.7 215.7 L486.2 204.9 L489.6 203.5 L493.1 194.3 L496.5 200.7 L500.5 209.5 L503.5 221.5 L506.9 222 L510.4 211.8 L513.8 214.6 L517.3 215 L520.8 202.6 L524.4 203 L528.1 194.6 L531.5 187.2 L535 184.2 L536.6 167.4 L538.5 144.3 L541.9 158.8 L545.4 161.8 L548.9 140.4 L552.3 130 L555.8 133.5 L559.2 125.4 L562.7 119.6 L566.2 115 L570.3 121.9 L573.8 119.1 L576.5 123.1 L580.5 139.7 L583.5 141.1 L587.4 148.4 L590.4 146.1 L594.3 135.7 L598 140.4 L601.2 143.8 L604.9 141.5 L608.9 157.6 L612.3 162.7 L615.8 162.7 L619.2 157.2 L622 151.2 L625 157.6 L628.9 167.4 L632.7 168.3 L635.8 164.1 L639.2 165.7 L642.7 168.7 L647.3 170.3 L650.8 168.7 L654.2 168 L657.2 154.2 L661.2 151.9 L664.2 151.2 L666.9 142.6 L670.4 141.9 L673.8 150.7 L677.3 150.7 L680.8 154.2 L684.9 144.9 L688.8 139.2 L691.8 141.9 L695.1 130 L698.8 118.4 L702 123 L706.2 115 L709.6 108.7 L713.1 108.7 L716.5 108 L720 105 L723.5 100 L726.9 96.1 L730.4 95.8 L733.8 95.4 L737.3 108.7 L740.8 104.4 L743.2 103.6 L745.1 105 L748.1 111.9 L751.5 114.9 L755 119.5 L758 118.8 L761.2 105 L764.2 102.7 L767.7 105 L771.2 99.2 L775.1 88.1 L778.8 107.3 L782 105 L785.7 99.7 L788.9 96.4 L792.6 83 L795.9 100.4 L799.5 114.9 L802.8 103.4 L806.5 105.7 L809.7 103.8 L813.9 76.1 L817.3 78.9 L820.8 82.6 L824.2 98 L827.7 114.9 L831.2 133.8 L834.6 138 L838.1 126.9 L841.5 126.4 L845 134.9 L848.5 123.4 L851.9 117.6 L855.3 113.8 L858.4 127.3 L862.2 143 L865.7 149.3 L869.3 143 L872.7 149.9 L876.2 146.5 L879.8 147.8 L883.1 149.9 L886.1 140.9 L889.9 137.3 L893 134.6 L896.2 132.5 L900.4 131.9 L904.5 129.3 L907.7 130.4 L911.3 138.8 L914.6 149.9 L917.1 140.9 L921.3 132.5 L924.5 131.4 L928.7 126.2 L931.8 119.3 L935.6 122 L939.2 131.4 L941.9 144 L943.7 155.2 L946.6 162.3 L950.3 166.7 L953.2 170.8 L956.5 178 L959.9 170.8 L963.4 181.5 L966.4 175 L970.1 170.4 L973 169.9 L975.2 169.2 L977.4 167.7 L979.6 172.8 L982.6 178.7 L984.8 181.4 L987.7 180.9 L991.4 175.8 L994.6 176.5 L996.5 167.7 L998.4 159.6 L1001.4 158.5 L1005.3 139.8" fill="none" stroke="#12b877" stroke-width="2" stroke-linejoin="round" stroke-linecap="round" clip-path="url(#above)"/>
<path d="M11 164 L12.5 162 L16 165 L19.3 162 L21.3 157.2 L23.8 150.7 L25.4 154.5 L27.3 161 L29.8 161 L33.6 146.6 L36.3 145.3 L39 146.1 L40.7 147.7 L44.2 153.8 L47.9 146.3 L51.3 142.3 L54 140.9 L56.1 138.4 L58.4 132.7 L61.5 139.6 L65.1 128.6 L68.4 131.2 L71.7 134 L75.5 135 L79.1 130.8 L82.7 136.8 L89.8 127.6 L93.3 132.8 L96.7 123 L100.3 128.5 L103.7 133.3 L106.9 132 L110.7 141 L114 140.2 L117.8 134.6 L121.2 121 L124.6 125.8 L128 136.4 L131.8 130 L135.9 130 L138.6 131.3 L141.4 125.8 L144.9 125.8 L148.7 122.3 L152.3 125 L156.4 129.4 L159 130 L162.4 132.7 L165.9 128.6 L168.6 132.7 L173.3 138.1 L176.8 160.5 L179.5 149 L183.1 119 L184.4 109.1 L186.9 93.4 L190.6 86 L194.3 93.8 L197.5 101.5 L200.7 100 L204.4 96 L207.8 64.7 L211.4 79 L214.7 70.6 L216.6 69.8 L218.6 70 L221.6 57.7 L224.4 59 L226.5 61.1 L229.4 63.2 L232.3 61.9 L235.9 76 L238.8 80.3 L242.6 77.6 L246.3 87 L249.9 94 L253.4 90.8 L256.8 81.4 L259.9 82.3 L262.8 77 L266.5 70.7 L268.4 69.5 L270.7 70.2 L274 56.9 L277.5 65.2 L281 67.1 L284.7 69.7 L288 67.9 L291.5 79.7 L294.5 82.8 L298.4 80.3 L301.7 84.8 L304.9 93.9 L306.8 104 L307.6 114 L309.3 130 L312.5 143.9 L316 128.5 L319 165.8 L322.6 174.6 L326.4 207.3 L329.5 172 L331.3 166.6 L337.6 148 L343.8 130.9 L347.6 136.7 L350.6 163.2 L354.1 140.5 L357.8 140.5 L361.5 137.9 L365.5 159.3 L368.5 161.5 L371.7 162.5 L373.3 168.2 L375.1 190.3 L378.7 188.5 L381.8 196.4 L385.1 211.4 L388.6 227.2 L394.1 226.4 L398.7 224.2 L403.1 237.8 L406.4 234.5 L409.9 222.3 L413.5 233 L416.9 241.8 L420.4 247.3 L423.8 251.5 L426.6 249.6 L429.6 237.6 L434.2 215.7 L437.7 209.5 L441.2 200.7 L444.6 215.7 L448.1 229.1 L452 228.9 L455 225 L458.5 226.1 L461.9 236.5 L465.4 229.6 L468.8 237.2 L472.3 244.1 L475.8 241.1 L479.2 218 L482.7 215.7 L486.2 204.9 L489.6 203.5 L493.1 194.3 L496.5 200.7 L500.5 209.5 L503.5 221.5 L506.9 222 L510.4 211.8 L513.8 214.6 L517.3 215 L520.8 202.6 L524.4 203 L528.1 194.6 L531.5 187.2 L535 184.2 L536.6 167.4 L538.5 144.3 L541.9 158.8 L545.4 161.8 L548.9 140.4 L552.3 130 L555.8 133.5 L559.2 125.4 L562.7 119.6 L566.2 115 L570.3 121.9 L573.8 119.1 L576.5 123.1 L580.5 139.7 L583.5 141.1 L587.4 148.4 L590.4 146.1 L594.3 135.7 L598 140.4 L601.2 143.8 L604.9 141.5 L608.9 157.6 L612.3 162.7 L615.8 162.7 L619.2 157.2 L622 151.2 L625 157.6 L628.9 167.4 L632.7 168.3 L635.8 164.1 L639.2 165.7 L642.7 168.7 L647.3 170.3 L650.8 168.7 L654.2 168 L657.2 154.2 L661.2 151.9 L664.2 151.2 L666.9 142.6 L670.4 141.9 L673.8 150.7 L677.3 150.7 L680.8 154.2 L684.9 144.9 L688.8 139.2 L691.8 141.9 L695.1 130 L698.8 118.4 L702 123 L706.2 115 L709.6 108.7 L713.1 108.7 L716.5 108 L720 105 L723.5 100 L726.9 96.1 L730.4 95.8 L733.8 95.4 L737.3 108.7 L740.8 104.4 L743.2 103.6 L745.1 105 L748.1 111.9 L751.5 114.9 L755 119.5 L758 118.8 L761.2 105 L764.2 102.7 L767.7 105 L771.2 99.2 L775.1 88.1 L778.8 107.3 L782 105 L785.7 99.7 L788.9 96.4 L792.6 83 L795.9 100.4 L799.5 114.9 L802.8 103.4 L806.5 105.7 L809.7 103.8 L813.9 76.1 L817.3 78.9 L820.8 82.6 L824.2 98 L827.7 114.9 L831.2 133.8 L834.6 138 L838.1 126.9 L841.5 126.4 L845 134.9 L848.5 123.4 L851.9 117.6 L855.3 113.8 L858.4 127.3 L862.2 143 L865.7 149.3 L869.3 143 L872.7 149.9 L876.2 146.5 L879.8 147.8 L883.1 149.9 L886.1 140.9 L889.9 137.3 L893 134.6 L896.2 132.5 L900.4 131.9 L904.5 129.3 L907.7 130.4 L911.3 138.8 L914.6 149.9 L917.1 140.9 L921.3 132.5 L924.5 131.4 L928.7 126.2 L931.8 119.3 L935.6 122 L939.2 131.4 L941.9 144 L943.7 155.2 L946.6 162.3 L950.3 166.7 L953.2 170.8 L956.5 178 L959.9 170.8 L963.4 181.5 L966.4 175 L970.1 170.4 L973 169.9 L975.2 169.2 L977.4 167.7 L979.6 172.8 L982.6 178.7 L984.8 181.4 L987.7 180.9 L991.4 175.8 L994.6 176.5 L996.5 167.7 L998.4 159.6 L1001.4 158.5 L1005.3 139.8" fill="none" stroke="#d9313f" stroke-width="2" stroke-linejoin="round" stroke-linecap="round" clip-path="url(#below)"/>
<!-- watermark logo -->
<rect x="852" y="298" width="141" height="21" rx="6" fill="#fff" fill-opacity="0.6" filter="url(#bl)"/>
<g fill="none" stroke="#cdd2da" stroke-width="1.9" stroke-linecap="round" stroke-linejoin="round">
<path d="M870.42 316.69 A10.3 10.3 0 1 1 873.94 310.59"/>
<path d="M856.8 314 L861.6 305.4 Q862.6 303.9 863.6 305.6 L865.2 310.5 L867.3 305.4 Q868.3 303.9 869.3 305.6 L871 310.8 Q872.3 313.2 874.9 310.4"/>
</g>
<!-- navigator -->
<rect x="7" y="413" width="1001" height="1" fill="#f0f0f1"/>
<rect x="7" y="453" width="1001" height="1" fill="#f3f3f5"/>
<rect x="38.7" y="414" width="1" height="39.5" fill="#f5f5f6"/><rect x="106.3" y="414" width="1" height="39.5" fill="#f5f5f6"/><rect x="173.9" y="414" width="1" height="39.5" fill="#f5f5f6"/><rect x="241.4" y="414" width="1" height="39.5" fill="#f5f5f6"/><rect x="309.0" y="414" width="1" height="39.5" fill="#f5f5f6"/><rect x="376.6" y="414" width="1" height="39.5" fill="#f5f5f6"/><rect x="444.2" y="414" width="1" height="39.5" fill="#f5f5f6"/><rect x="511.8" y="414" width="1" height="39.5" fill="#f5f5f6"/><rect x="579.3" y="414" width="1" height="39.5" fill="#f5f5f6"/><rect x="646.9" y="414" width="1" height="39.5" fill="#f5f5f6"/><rect x="714.5" y="414" width="1" height="39.5" fill="#f5f5f6"/><rect x="782.1" y="414" width="1" height="39.5" fill="#f5f5f6"/><rect x="849.7" y="414" width="1" height="39.5" fill="#f5f5f6"/><rect x="917.2" y="414" width="1" height="39.5" fill="#f5f5f6"/><rect x="984.8" y="414" width="1" height="39.5" fill="#f5f5f6"/>
<path d="M8 453.5 L8.0 453.1 L9.5 453.1 L11.0 453.2 L12.5 453.1 L14.0 453.2 L15.5 453.1 L17.0 453.0 L18.5 453.2 L20.0 453.0 L21.5 453.2 L23.0 453.0 L24.5 453.0 L26.0 453.1 L27.5 453.3 L29.0 453.0 L30.5 453.1 L32.0 453.2 L33.5 453.3 L35.0 453.2 L36.5 453.1 L38.0 453.3 L39.5 453.0 L41.0 453.2 L42.5 453.1 L44.0 453.0 L45.5 453.0 L47.0 453.1 L48.5 453.2 L50.0 453.0 L51.5 453.1 L53.0 453.1 L54.5 453.1 L56.0 453.1 L57.5 453.0 L59.0 453.0 L60.5 453.0 L62.0 453.1 L63.5 453.1 L65.0 453.0 L66.5 453.1 L68.0 453.1 L69.5 453.0 L71.0 453.2 L72.5 453.1 L74.0 453.0 L75.5 453.1 L77.0 453.1 L78.5 453.2 L80.0 453.1 L81.5 453.0 L83.0 453.2 L84.5 452.9 L86.0 453.0 L87.5 453.1 L89.0 452.9 L90.5 453.0 L92.0 452.9 L93.5 453.1 L95.0 453.1 L96.5 453.0 L98.0 453.1 L99.5 452.9 L101.0 453.1 L102.5 453.0 L104.0 453.0 L105.5 453.0 L107.0 453.1 L108.5 453.1 L110.0 453.0 L111.5 453.0 L113.0 452.8 L114.5 453.0 L116.0 453.0 L117.5 453.1 L119.0 453.1 L120.5 452.9 L122.0 452.9 L123.5 453.0 L125.0 452.8 L126.5 452.9 L128.0 452.8 L129.5 452.8 L131.0 452.8 L132.5 453.0 L134.0 452.8 L135.5 452.8 L137.0 452.9 L138.5 453.0 L140.0 452.8 L141.5 452.9 L143.0 452.9 L144.5 453.0 L146.0 453.0 L147.5 453.0 L149.0 452.8 L150.5 452.9 L152.0 452.8 L153.5 453.0 L155.0 453.0 L156.5 452.8 L158.0 452.8 L159.5 452.8 L161.0 452.8 L162.5 452.9 L164.0 452.9 L165.5 452.8 L167.0 452.7 L168.5 452.8 L170.0 452.8 L171.5 452.9 L173.0 453.0 L174.5 452.9 L176.0 452.9 L177.5 452.9 L179.0 452.9 L180.5 452.7 L182.0 453.0 L183.5 452.9 L185.0 453.0 L186.5 452.9 L188.0 452.8 L189.5 452.8 L191.0 452.7 L192.5 452.9 L194.0 452.7 L195.5 452.7 L197.0 452.7 L198.5 452.7 L200.0 452.7 L201.5 452.6 L203.0 452.6 L204.5 452.7 L206.0 452.7 L207.5 452.7 L209.0 452.6 L210.5 452.9 L212.0 452.8 L213.5 452.7 L215.0 452.7 L216.5 452.7 L218.0 452.7 L219.5 452.6 L221.0 452.9 L222.5 452.9 L224.0 452.7 L225.5 452.7 L227.0 452.6 L228.5 452.6 L230.0 452.7 L231.5 452.7 L233.0 452.8 L234.5 452.6 L236.0 452.6 L237.5 452.9 L239.0 452.7 L240.5 452.6 L242.0 452.7 L243.5 452.5 L245.0 452.7 L246.5 452.9 L248.0 452.8 L249.5 452.8 L251.0 452.6 L252.5 452.6 L254.0 452.6 L255.5 452.8 L257.0 452.7 L258.5 452.8 L260.0 452.6 L261.5 452.6 L263.0 452.8 L264.5 452.8 L266.0 452.8 L267.5 452.8 L269.0 452.8 L270.5 452.7 L272.0 452.6 L273.5 452.7 L275.0 452.6 L276.5 452.5 L278.0 452.5 L279.5 452.6 L281.0 452.6 L282.5 452.7 L284.0 452.8 L285.5 452.6 L287.0 452.8 L288.5 452.8 L290.0 452.8 L291.5 452.6 L293.0 452.5 L294.5 452.5 L296.0 452.5 L297.5 452.5 L299.0 452.6 L300.5 452.7 L302.0 452.7 L303.5 452.6 L305.0 452.6 L306.5 452.7 L308.0 452.4 L309.5 452.6 L311.0 452.7 L312.5 452.7 L314.0 452.6 L315.5 452.5 L317.0 452.4 L318.5 452.7 L320.0 452.5 L321.5 452.6 L323.0 452.7 L324.5 452.5 L326.0 452.5 L327.5 452.7 L329.0 452.6 L330.5 452.4 L332.0 452.4 L333.5 452.4 L335.0 452.6 L336.5 452.6 L338.0 452.4 L339.5 452.6 L341.0 452.7 L342.5 452.5 L344.0 452.4 L345.5 452.5 L347.0 452.3 L348.5 452.3 L350.0 452.6 L351.5 452.5 L353.0 452.5 L354.5 452.6 L356.0 452.4 L357.5 452.6 L359.0 452.5 L360.5 452.3 L362.0 452.3 L363.5 452.3 L365.0 452.3 L366.5 452.4 L368.0 452.3 L369.5 452.4 L371.0 452.2 L372.5 452.5 L374.0 452.3 L375.5 452.4 L377.0 452.4 L378.5 452.5 L380.0 452.3 L381.5 452.5 L383.0 452.4 L384.5 452.4 L386.0 452.4 L387.5 452.2 L389.0 452.3 L390.5 452.2 L392.0 452.1 L393.5 452.4 L395.0 452.2 L396.5 452.3 L398.0 452.4 L399.5 452.3 L401.0 452.2 L402.5 452.3 L404.0 452.3 L405.5 452.4 L407.0 452.1 L408.5 452.2 L410.0 452.1 L411.5 452.1 L413.0 452.3 L414.5 452.2 L416.0 452.2 L417.5 452.2 L419.0 452.3 L420.5 452.1 L422.0 452.1 L423.5 452.1 L425.0 452.1 L426.5 452.1 L428.0 452.0 L429.5 452.0 L431.0 452.0 L432.5 452.2 L434.0 452.0 L435.5 452.1 L437.0 452.1 L438.5 451.8 L440.0 451.9 L441.5 452.1 L443.0 452.0 L444.5 451.7 L446.0 451.7 L447.5 451.8 L449.0 451.6 L450.5 451.7 L452.0 451.6 L453.5 451.8 L455.0 451.9 L456.5 451.9 L458.0 451.6 L459.5 451.8 L461.0 451.8 L462.5 451.5 L464.0 451.8 L465.5 451.9 L467.0 451.5 L468.5 451.8 L470.0 451.6 L471.5 451.6 L473.0 451.8 L474.5 451.7 L476.0 451.4 L477.5 451.5 L479.0 451.5 L480.5 451.4 L482.0 451.2 L483.5 451.1 L485.0 451.1 L486.5 450.6 L488.0 450.7 L489.5 450.5 L491.0 450.1 L492.5 450.1 L494.0 450.2 L495.5 450.0 L497.0 449.5 L498.5 450.0 L500.0 449.7 L501.5 449.6 L503.0 448.8 L504.5 448.8 L506.0 448.4 L507.5 448.8 L509.0 448.2 L510.5 447.9 L512.0 447.9 L513.5 448.6 L515.0 448.7 L516.5 448.5 L518.0 448.7 L519.5 449.4 L521.0 449.4 L522.5 449.7 L524.0 449.6 L525.5 449.7 L527.0 450.2 L528.5 450.1 L530.0 449.9 L531.5 450.4 L533.0 450.3 L534.5 450.5 L536.0 450.1 L537.5 450.6 L539.0 450.1 L540.5 450.7 L542.0 450.5 L543.5 450.4 L545.0 450.6 L546.5 450.9 L548.0 450.5 L549.5 450.5 L551.0 450.8 L552.5 450.6 L554.0 450.6 L555.5 450.7 L557.0 450.7 L558.5 450.8 L560.0 450.9 L561.5 450.9 L563.0 451.1 L564.5 450.9 L566.0 451.0 L567.5 450.8 L569.0 450.9 L570.5 450.7 L572.0 450.9 L573.5 450.7 L575.0 451.1 L576.5 451.0 L578.0 450.8 L579.5 451.0 L581.0 451.2 L582.5 450.8 L584.0 451.2 L585.5 451.0 L587.0 451.0 L588.5 451.2 L590.0 450.9 L591.5 451.0 L593.0 451.1 L594.5 451.3 L596.0 450.9 L597.5 451.2 L599.0 451.1 L600.5 451.1 L602.0 450.9 L603.5 450.9 L605.0 450.7 L606.5 450.7 L608.0 450.7 L609.5 451.0 L611.0 450.7 L612.5 450.7 L614.0 450.6 L615.5 451.0 L617.0 451.0 L618.5 450.9 L620.0 450.6 L621.5 450.6 L623.0 450.6 L624.5 450.7 L626.0 450.5 L627.5 450.6 L629.0 450.5 L630.5 450.9 L632.0 450.9 L633.5 450.6 L635.0 450.4 L636.5 450.8 L638.0 450.4 L639.5 450.4 L641.0 450.2 L642.5 450.4 L644.0 450.4 L645.5 450.4 L647.0 450.2 L648.5 450.4 L650.0 450.0 L651.5 450.2 L653.0 450.0 L654.5 450.2 L656.0 449.9 L657.5 449.9 L659.0 450.0 L660.5 450.0 L662.0 450.2 L663.5 450.1 L665.0 450.2 L666.5 450.1 L668.0 450.1 L669.5 450.2 L671.0 449.9 L672.5 449.8 L674.0 450.2 L675.5 449.7 L677.0 450.0 L678.5 449.9 L680.0 449.5 L681.5 449.9 L683.0 449.9 L684.5 449.7 L686.0 449.7 L687.5 449.6 L689.0 449.1 L690.5 449.3 L692.0 449.2 L693.5 449.4 L695.0 449.3 L696.5 449.2 L698.0 449.0 L699.5 449.1 L701.0 448.9 L702.5 448.7 L704.0 448.1 L705.5 447.7 L707.0 447.5 L708.5 447.5 L710.0 447.0 L711.5 447.1 L713.0 445.7 L714.5 444.6 L716.0 443.5 L717.5 442.2 L719.0 439.9 L720.5 437.0 L722.0 437.1 L723.5 436.4 L725.0 435.3 L726.5 434.8 L728.0 434.5 L729.5 432.7 L731.0 433.7 L732.5 432.0 L734.0 431.6 L735.5 432.8 L737.0 434.5 L738.5 434.9 L740.0 438.2 L741.5 440.9 L743.0 441.3 L744.5 441.4 L746.0 441.7 L747.5 442.3 L749.0 442.1 L750.5 441.2 L752.0 440.5 L753.5 438.8 L755.0 438.3 L756.5 438.0 L758.0 438.4 L759.5 437.1 L761.0 437.1 L762.5 435.3 L764.0 434.4 L765.5 434.0 L767.0 433.9 L768.5 433.1 L770.0 432.2 L771.5 431.5 L773.0 433.0 L774.5 433.9 L776.0 434.8 L777.5 435.0 L779.0 437.3 L780.5 436.7 L782.0 438.9 L783.5 439.2 L785.0 437.7 L786.5 438.6 L788.0 439.4 L789.5 439.8 L791.0 439.1 L792.5 438.7 L794.0 438.4 L795.5 439.6 L797.0 438.1 L798.5 438.6 L800.0 437.7 L801.5 438.9 L803.0 440.5 L804.5 440.1 L806.0 442.0 L807.5 442.5 L809.0 443.7 L810.5 444.2 L812.0 444.4 L813.5 445.8 L815.0 446.1 L816.5 445.9 L818.0 446.0 L819.5 446.6 L821.0 446.7 L822.5 446.7 L824.0 446.6 L825.5 446.9 L827.0 447.0 L828.5 447.6 L830.0 446.9 L831.5 447.6 L833.0 447.8 L834.5 447.2 L836.0 448.0 L837.5 447.9 L839.0 448.1 L840.5 447.6 L842.0 447.6 L843.5 447.5 L845.0 447.9 L846.5 447.5 L848.0 447.2 L849.5 447.2 L851.0 447.0 L852.5 446.6 L854.0 446.3 L855.5 446.8 L857.0 446.0 L858.5 446.4 L860.0 445.4 L861.5 445.1 L863.0 445.1 L864.5 444.7 L866.0 444.8 L867.5 445.4 L869.0 445.2 L870.5 445.1 L872.0 444.8 L873.5 445.1 L875.0 445.0 L876.5 444.5 L878.0 444.7 L879.5 443.9 L881.0 444.6 L882.5 444.3 L884.0 444.6 L885.5 444.4 L887.0 443.9 L888.5 443.6 L890.0 444.7 L891.5 443.7 L893.0 444.1 L894.5 443.9 L896.0 443.8 L897.5 444.4 L899.0 444.6 L900.5 443.7 L902.0 444.2 L903.5 443.8 L905.0 443.3 L906.5 442.3 L908.0 441.8 L909.5 441.5 L911.0 441.4 L912.5 440.2 L914.0 439.5 L915.5 439.0 L917.0 440.1 L918.5 440.3 L920.0 439.3 L921.5 438.8 L923.0 438.8 L924.5 438.6 L926.0 439.0 L927.5 435.7 L929.0 430.3 L930.5 430.3 L932.0 431.0 L933.5 431.8 L935.0 431.4 L936.5 430.4 L938.0 430.4 L939.5 430.6 L941.0 430.3 L942.5 430.3 L944.0 429.8 L945.5 430.5 L947.0 432.4 L948.5 430.4 L950.0 431.5 L951.5 431.7 L953.0 432.2 L954.5 430.5 L956.0 430.5 L957.5 430.3 L959.0 430.6 L960.5 430.7 L962.0 432.1 L963.5 431.9 L965.0 432.1 L966.5 430.1 L968.0 430.2 L969.5 432.0 L971.0 432.4 L972.5 431.2 L974.0 431.3 L975.5 420.8 L977.0 420.8 L978.5 421.4 L980.0 420.1 L981.5 420.0 L983.0 420.3 L984.5 417.3 L986.0 417.0 L987.5 417.5 L989.0 419.2 L990.5 420.2 L992.0 422.1 L993.5 422.4 L995.0 423.3 L996.5 424.9 L998.0 424.7 L999.5 425.4 L1001.0 424.3 L1002.5 427.0 L1004.0 426.0 L1005.5 428.5 L1006.5 453.5 Z" fill="#eceef2"/>
<rect x="1005.5" y="414" width="1" height="12" fill="#dfe2e6"/>
<rect x="999" y="423.5" width="14.5" height="19.5" rx="6.5" fill="#fff" filter="url(#sh)"/>
<rect x="1004" y="430" width="1" height="6.5" fill="#9aa0aa"/>
<rect x="1007" y="430" width="1" height="6.5" fill="#9aa0aa"/>
<!-- gray badge -->
<path d="M10.5 396.2 L20.5 386 Q22.5 384 25.5 384 L37 384 A12.25 12.25 0 0 1 37 408.5 L25.5 408.5 Q22.5 408.5 20.5 406.4 Z" fill="#a6b0c3"/>
<g fill="none" stroke="#fff" stroke-width="1.35" stroke-linecap="round" stroke-linejoin="round">
<path d="M21.87 394.8 A4.6 4.6 0 1 0 23.76 391.83"/>
<path d="M25.9 393.3 L26.5 396 L28 397.4"/>
</g>
<circle cx="21.6" cy="394.4" r="1.05" fill="#fff"/>
<!-- purple badge -->
<path d="M929 384 L933 380.3 L937 384 Z" fill="#873bf9"/>
<rect x="861" y="384" width="144" height="24.5" rx="12.25" fill="#873bf9"/>
<path d="M874.5 389.5 L869 397 L873 397 L871.5 402.5 L877.5 394.5 L873.5 394.5 Z" fill="none" stroke="#fff" stroke-width="1.2" stroke-linejoin="round"/>
</svg>
<div class="curb"></div><div class="cur">94.41K</div>
<div class="rl" style="top:52.3px">95.50K</div><div class="rl" style="top:102.3px">95.00K</div><div class="rl" style="top:151.3px">94.50K</div><div class="rl" style="top:200.3px">94.00K</div><div class="rl" style="top:250.3px">93.50K</div><div class="rl" style="top:299.3px">93.00K</div>
<div class="tag"></div><div class="tagt">94.68K</div>
<div class="usd">USD</div>
<div class="wm">CoinMarketCap</div>
<div class="xl" style="left:35.8px">8:00 AM</div><div class="xl" style="left:119.3px">10:00 AM</div><div class="xl" style="left:202.8px">12:00 PM</div><div class="xl" style="left:286.3px">2:00 PM</div><div class="xl" style="left:369.8px">4:00 PM</div><div class="xl" style="left:453.3px">6:00 PM</div><div class="xl" style="left:536.8px">8:00 PM</div><div class="xl" style="left:620.3px">10:00 PM</div><div class="xl" style="left:703.8px">29 Apr</div><div class="xl" style="left:787.3px">2:00 AM</div><div class="xl" style="left:870.8px">4:00 AM</div><div class="xl" style="left:954.3px">6:00 AM</div>
<div class="yl" style="left:9.2px">2011</div><div class="yl" style="left:76.8px">2012</div><div class="yl" style="left:144.4px">2013</div><div class="yl" style="left:211.9px">2014</div><div class="yl" style="left:279.5px">2015</div><div class="yl" style="left:347.1px">2016</div><div class="yl" style="left:414.7px">2017</div><div class="yl" style="left:482.3px">2018</div><div class="yl" style="left:549.8px">2019</div><div class="yl" style="left:617.4px">2020</div><div class="yl" style="left:685.0px">2021</div><div class="yl" style="left:752.6px">2022</div><div class="yl" style="left:820.2px">2023</div><div class="yl" style="left:887.7px">2024</div><div class="yl" style="left:955.3px">2025</div>
<div class="gb">5</div>
<div class="pb">Bitcoin hits $95,00...</div>
</body></html>
